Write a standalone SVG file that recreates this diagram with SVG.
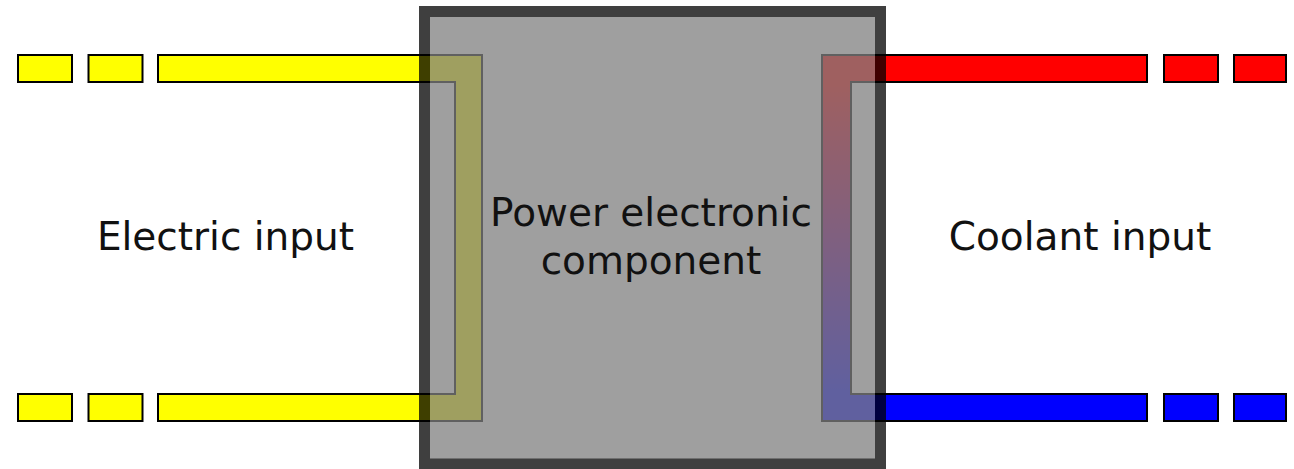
<svg xmlns="http://www.w3.org/2000/svg" width="1294" height="469" viewBox="0 0 1294 469">
<defs>
<linearGradient id="cool" gradientUnits="userSpaceOnUse" x1="0" y1="83" x2="0" y2="393">
<stop offset="0" stop-color="#ff0000"/>
<stop offset="1" stop-color="#0000ff"/>
</linearGradient>
<style>
.pipe{stroke:#000;stroke-width:2;stroke-linejoin:miter}
.yel{fill:#ffff00}
.red{fill:#ff0000}
.blu{fill:#0000ff}
.lbl{font-family:"DejaVu Sans","Liberation Sans",sans-serif;font-size:39px;fill:#111;text-anchor:middle}
</style>
</defs>
<rect width="1294" height="469" fill="#fff"/>
<g id="connectors">
<g id="electric-pipe">
<rect class="pipe yel" x="18" y="55" width="54" height="27"/>
<rect class="pipe yel" x="88.5" y="55" width="54" height="27"/>
<rect class="pipe yel" x="18" y="394" width="54" height="27"/>
<rect class="pipe yel" x="88.5" y="394" width="54" height="27"/>
<path class="pipe yel" d="M158,55 H482 V421 H158 V394 H455 V82 H158 Z"/>
</g>
<g id="coolant-pipe">
<rect class="pipe red" x="1164" y="55" width="54" height="27"/>
<rect class="pipe red" x="1234" y="55" width="52" height="27"/>
<rect class="pipe blu" x="1164" y="394" width="54" height="27"/>
<rect class="pipe blu" x="1234" y="394" width="52" height="27"/>
<path class="pipe" fill="url(#cool)" d="M1147,55 H822 V421 H1147 V394 H851 V82 H1147 Z"/>
</g>
</g>
<g id="component">
<rect x="424.5" y="11.5" width="456" height="452.5" fill="#808080" stroke="#000" stroke-width="11" opacity="0.75"/>
<text class="lbl" x="651" y="226">Power electronic</text>
<text class="lbl" x="651" y="274">component</text>
</g>
<g id="electric-input">
<text class="lbl" x="225.5" y="250">Electric input</text>
</g>
<g id="coolant-input">
<text class="lbl" x="1080" y="250">Coolant input</text>
</g>
</svg>
